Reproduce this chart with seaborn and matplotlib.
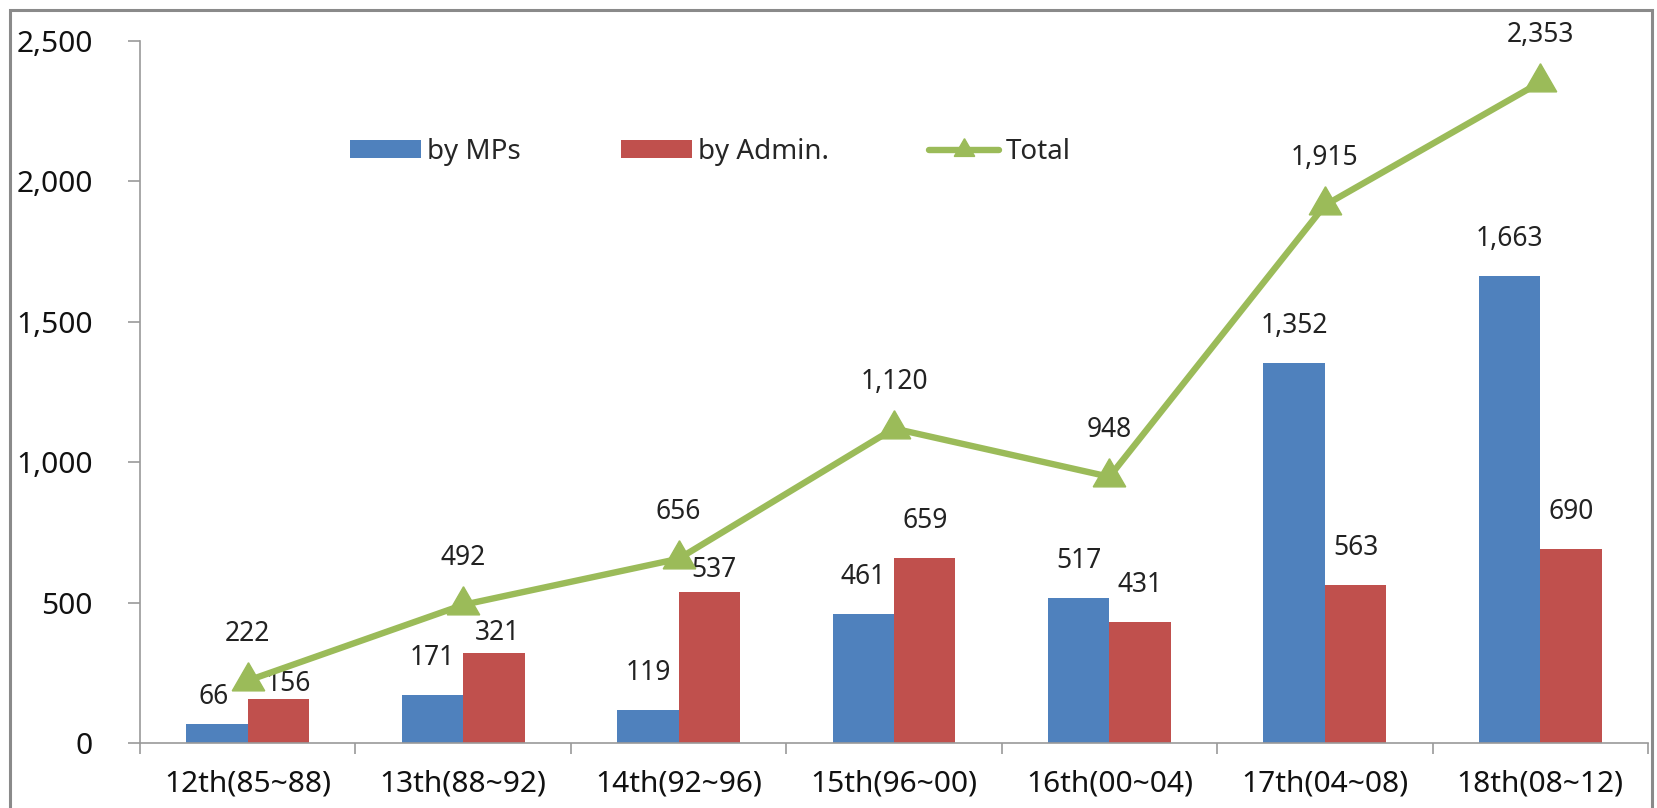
import numpy as np
import pandas as pd
import matplotlib
matplotlib.use("Agg")
import matplotlib.pyplot as plt
from matplotlib.patches import Patch, Rectangle
from matplotlib.lines import Line2D
from matplotlib.ticker import FuncFormatter
import seaborn as sns

# --- data ---
terms = ["12th(85~88)", "13th(88~92)", "14th(92~96)", "15th(96~00)",
         "16th(00~04)", "17th(04~08)", "18th(08~12)"]
by_mps = [66, 171, 119, 461, 517, 1352, 1663]
by_admin = [156, 321, 537, 659, 431, 563, 690]
total = [222, 492, 656, 1120, 948, 1915, 2353]
series_names = ["by MPs", "by Admin."]

# --- style ---
BLUE, RED, GREEN = "#4F81BD", "#C0504D", "#9BBB59"
GRAY = "#9a9a9a"
TICK_FS, LABEL_FS, LEG_FS = 21.5, 19, 20
TRI = (3, 0, 0)  # equilateral triangle marker, a bit wider than tall
# hand-placed label nudges (series, index) -> (dx, dy) pixels
nudge = {(0, 0): (-3, 27), (1, 0): (10, 15), (1, 1): (4, 20), (1, 2): (5, 22)}

sns.set_theme(style="white")
plt.rcParams["font.family"] = ["Noto Sans", "DejaVu Sans"]

df = pd.DataFrame({
    "term": terms * 2,
    "count": by_mps + by_admin,
    "type": [series_names[0]] * len(terms) + [series_names[1]] * len(terms),
})

fig = plt.figure(figsize=(16.57, 8.08), dpi=100)
ax = fig.add_axes([140 / 1657, 1 - 743 / 808, (1648 - 140) / 1657, (743 - 41) / 808])

sns.barplot(data=df, x="term", y="count", hue="type", palette=[BLUE, RED],
            width=0.57, saturation=1, linewidth=0, legend=False, ax=ax)

xs = np.arange(len(terms))
ax.plot(xs, total, color=GREEN, lw=4.6, marker=TRI, ms=27, zorder=5)

# bar value labels
for s, cont in enumerate(ax.containers):
    for i, bar in enumerate(cont):
        h = bar.get_height()
        dx, dy = nudge.get((s, i), (0, 37))
        ax.annotate(f"{h:,.0f}", (bar.get_x() + bar.get_width() / 2, h),
                    xytext=(dx, dy), textcoords="offset pixels",
                    ha="center", va="center", fontsize=LABEL_FS, color="#222222")

# total labels
for x, v in zip(xs, total):
    ax.annotate(f"{v:,}", (x, v), xytext=(0, 47), textcoords="offset pixels",
                ha="center", va="center", fontsize=LABEL_FS, color="#222222")

ax.set_xlim(-0.5, len(terms) - 0.5)
ax.set_ylim(0, 2500)
ax.set_yticks(np.arange(0, 2501, 500))
ax.yaxis.set_major_formatter(FuncFormatter(lambda v, p: f"{v:,.0f}"))
ax.set_xticks(np.arange(-0.5, len(terms), 1), minor=True)
ax.set_xlabel("")
ax.set_ylabel("")

for side in ["top", "right"]:
    ax.spines[side].set_visible(False)
for side in ["left", "bottom"]:
    ax.spines[side].set_color(GRAY)
    ax.spines[side].set_linewidth(1.2)

ax.tick_params(axis="y", which="major", length=9, width=1.2, color=GRAY,
               direction="out", pad=25, labelsize=TICK_FS, labelcolor="#111111", left=True)
ax.tick_params(axis="x", which="major", length=0, pad=19, labelsize=TICK_FS,
               labelcolor="#111111")
ax.tick_params(axis="x", which="minor", length=8, width=1.2, color=GRAY,
               direction="out", bottom=True)

handles = [
    Patch(facecolor=BLUE, edgecolor="none", label=series_names[0]),
    Patch(facecolor=RED, edgecolor="none", label=series_names[1]),
    Line2D([], [], color=GREEN, lw=4.6, marker=TRI, ms=17, label="Total"),
]
fig.legend(handles=handles, loc="center left", bbox_to_anchor=(350 / 1657, 1 - 152 / 808),
           bbox_transform=fig.transFigure, ncol=3, frameon=False, fontsize=LEG_FS,
           handlelength=2.55, handleheight=0.61, handletextpad=0.22,
           columnspacing=3.6, borderpad=0, borderaxespad=0)

# outer chart frame
fig.add_artist(Rectangle((10 / 1657, -0.05), (1652 - 10) / 1657, 1 - 10 / 808 + 0.05,
                         transform=fig.transFigure, fill=False, edgecolor="#8a8a8a",
                         linewidth=2.2))

fig.savefig("out.png", dpi=100)
